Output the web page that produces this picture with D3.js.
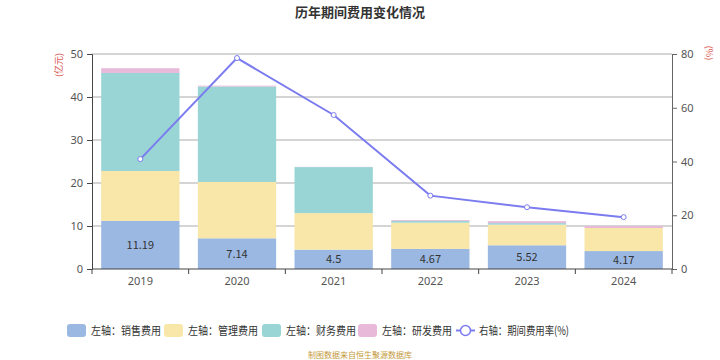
<!DOCTYPE html>
<html><head><meta charset="utf-8">
<script src="https://cdn.jsdelivr.net/npm/d3@7"></script>
<style>body{margin:0;background:#fff;font-family:"Noto Sans CJK SC","Noto Sans",sans-serif;}</style>
</head><body>
<svg id="c" width="720" height="360"></svg>
<script>
const years = ["2019","2020","2021","2022","2023","2024"];
const sales = [11.19, 7.14, 4.5, 4.67, 5.52, 4.17];
const admin = [11.6, 13.1, 8.5, 6.1, 4.8, 5.36];
const finance = [22.8, 22.2, 10.7, 0.4, 0.35, 0.0];
const rnd = [1.1, 0.2, 0.05, 0.2, 0.45, 0.47];
const rate = [40.9, 78.5, 57.3, 27.3, 23.0, 19.3];
const leftTicks = [0,10,20,30,40,50];
const rightTicks = [0,20,40,60,80];
const seriesNames = ["左轴：销售费用","左轴：管理费用","左轴：财务费用","左轴：研发费用"];
const lineName = "右轴：期间费用率(%)";
const colors = ["#9bb8e2","#f8e7a9","#98d5d4","#e8b9d9"];
const lineColor = "#7b7cef";

const svg = d3.select("#c");
const L=92,R=672,T=54,B=269;
const x = d3.scaleBand().domain(years).range([L,R]).paddingInner(0.19).paddingOuter(0.095);
const xb = d3.scaleBand().domain(years).range([L,R]);
const y = d3.scaleLinear().domain([0,50]).range([B,T]);
const y2 = d3.scaleLinear().domain([0,80]).range([B,T]);

svg.append("text").attr("x",360).attr("y",17).attr("text-anchor","middle")
  .attr("font-size",13).attr("font-weight","bold").attr("fill","#333").text("历年期间费用变化情况");

// grid
svg.append("g").selectAll("line").data(leftTicks.slice(1)).join("line")
  .attr("x1",L).attr("x2",R).attr("y1",d=>y(d)).attr("y2",d=>y(d))
  .attr("stroke","#aaa").attr("stroke-width",1);

// stacked bars
const stackData = years.map((yr,i)=>({year:yr,s0:sales[i],s1:admin[i],s2:finance[i],s3:rnd[i]}));
const stack = d3.stack().keys(["s0","s1","s2","s3"])(stackData);
stack.forEach((layer,k)=>{
  svg.append("g").selectAll("rect").data(layer).join("rect")
    .attr("x",d=>x(d.data.year)).attr("width",x.bandwidth())
    .attr("y",d=>y(d[1])).attr("height",d=>Math.max(0,y(d[0])-y(d[1])))
    .attr("fill",colors[k]);
});
svg.append("g").selectAll("text").data(stack[0]).join("text")
  .attr("x",d=>x(d.data.year)+x.bandwidth()/2).attr("y",d=>(y(d[0])+y(d[1]))/2+4)
  .attr("text-anchor","middle").attr("font-size",11).attr("fill","#333")
  .text((d,i)=>sales[i]);

// axes
const gl = svg.append("g").attr("transform",`translate(${L},0)`)
  .call(d3.axisLeft(y).tickValues(leftTicks).tickSize(5).tickPadding(4));
gl.select(".domain").attr("stroke","#444");
gl.selectAll(".tick line").attr("stroke","#444");
gl.selectAll("text").attr("font-size",11).attr("fill","#555").attr("font-family","Noto Sans, sans-serif");

const gr = svg.append("g").attr("transform",`translate(${R},0)`)
  .call(d3.axisRight(y2).tickValues(rightTicks).tickSize(5).tickPadding(4));
gr.select(".domain").attr("stroke","#666");
gr.selectAll(".tick line").attr("stroke","#666");
gr.selectAll("text").attr("font-size",11).attr("fill","#555").attr("font-family","Noto Sans, sans-serif");

const gx = svg.append("g").attr("transform",`translate(0,${B})`)
  .call(d3.axisBottom(x).tickSize(0).tickPadding(8));
gx.select(".domain").attr("stroke","#444").attr("d",`M${L},0H${R}`);
gx.selectAll("text").attr("font-size",11).attr("fill","#555").attr("font-family","Noto Sans, sans-serif");
svg.append("g").selectAll("line").data(years.concat(["end"])).join("line")
  .attr("x1",(d,i)=>L+i*xb.step()).attr("x2",(d,i)=>L+i*xb.step())
  .attr("y1",B).attr("y2",B+5).attr("stroke","#444");

// units
svg.append("text").attr("transform","translate(62,65) rotate(-90)").attr("text-anchor","middle")
  .attr("font-size",9).attr("fill","#d9534f").text("(亿元)");
svg.append("text").attr("transform","translate(706,53) rotate(90)").attr("text-anchor","middle")
  .attr("font-size",9).attr("fill","#d9534f").text("(%)");

// line
const lx = (d,i)=>x(years[i])+x.bandwidth()/2;
svg.append("path").datum(rate)
  .attr("d",d3.line().x(lx).y(d=>y2(d)))
  .attr("fill","none").attr("stroke",lineColor).attr("stroke-width",2);
svg.append("g").selectAll("circle").data(rate).join("circle")
  .attr("cx",lx).attr("cy",d=>y2(d)).attr("r",2.5)
  .attr("fill","#fff").attr("stroke",lineColor).attr("stroke-width",1);

// legend
const legX=[67,164,262,358];
const lg = svg.append("g");
seriesNames.forEach((n,i)=>{
  lg.append("rect").attr("x",legX[i]).attr("y",324).attr("width",19).attr("height",13).attr("rx",3)
    .attr("fill",colors[i]);
  lg.append("text").attr("x",legX[i]+24).attr("y",335).attr("font-size",11.5).attr("fill","#333")
    .attr("textLength",70).attr("lengthAdjust","spacingAndGlyphs").text(n);
});
lg.append("line").attr("x1",456).attr("x2",475).attr("y1",330.5).attr("y2",330.5).attr("stroke",lineColor).attr("stroke-width",2);
lg.append("circle").attr("cx",465.5).attr("cy",330.5).attr("r",5).attr("fill","#fff").attr("stroke",lineColor).attr("stroke-width",1.5);
lg.append("text").attr("x",479).attr("y",335).attr("font-size",11.5).attr("fill","#333")
  .attr("textLength",90).attr("lengthAdjust","spacingAndGlyphs").text(lineName);

svg.append("text").attr("x",360).attr("y",358).attr("text-anchor","middle")
  .attr("font-size",8).attr("fill","#c49a3c").text("制图数据来自恒生聚源数据库");
</script>
</body></html>
